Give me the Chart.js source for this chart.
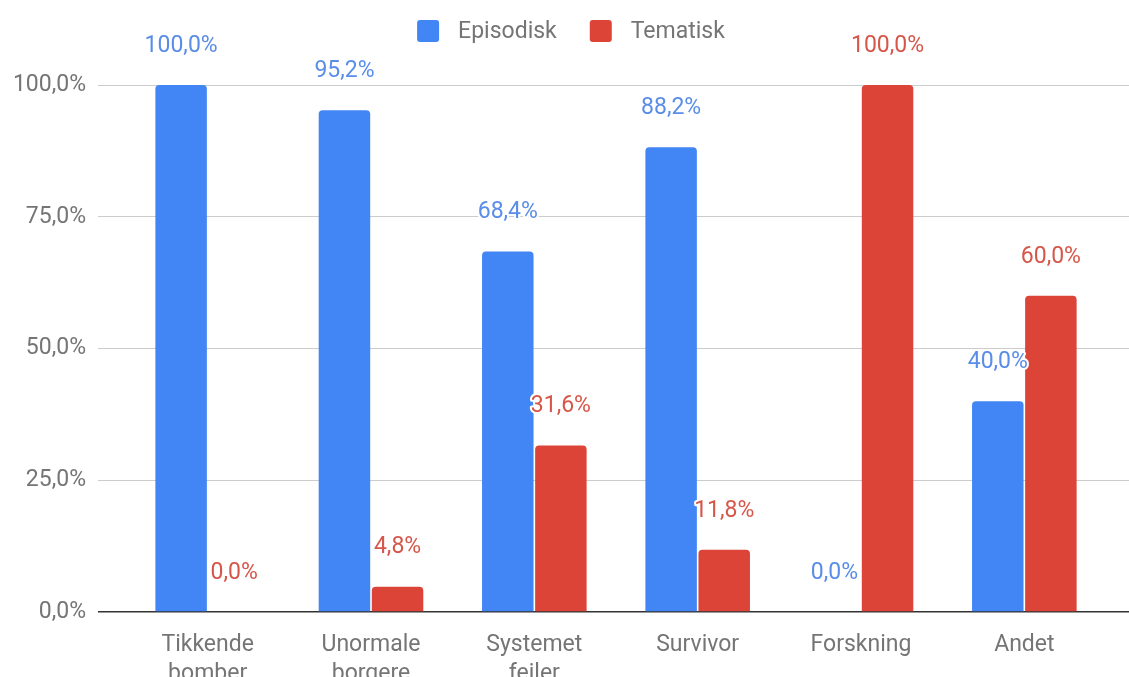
<!DOCTYPE html>
<html>
<head>
<meta charset="utf-8">
<script src="https://cdn.jsdelivr.net/npm/chart.js@4"></script>
<style>
  html, body { margin: 0; padding: 0; background: #fff; }
  #wrap { width: 1129px; height: 677px; }
</style>
</head>
<body>
<div id="wrap"><canvas id="chart" width="1129" height="677"></canvas></div>
<script>
// Chart data
const categories = [
    ['Tikkende', 'bomber'],
    ['Unormale', 'borgere'],
    ['Systemet', 'feiler'],
    'Survivor',
    'Forskning',
    'Andet'
];
const episodisk = [100.0, 95.2, 68.4, 88.2, 0.0, 40.0];
const tematisk = [0.0, 4.8, 31.6, 11.8, 100.0, 60.0];
const yTicks = [0, 25, 50, 75, 100];

const BLUE = '#4285F4';
const RED = '#DB4437';
const FONT = 'Roboto, "Noto Sans", sans-serif';
const TEXT = '#757575';

function pct(v) {
    return v.toFixed(1).replace('.', ',') + '%';
}

// Labels over each bar, with a white halo like the original
const valueLabels = {
    id: 'valueLabels',
    afterDatasetsDraw(chart) {
        const ctx = chart.ctx;
        ctx.save();
        ctx.font = '23px ' + FONT;
        ctx.textAlign = 'center';
        ctx.textBaseline = 'middle';
        ctx.lineJoin = 'round';
        chart.data.datasets.forEach((ds, i) => {
            chart.getDatasetMeta(i).data.forEach((bar, j) => {
                const txt = pct(ds.data[j]);
                ctx.strokeStyle = '#fff';
                ctx.lineWidth = 4;
                ctx.strokeText(txt, bar.x, bar.y - 39);
                ctx.fillStyle = ds.labelColor;
                ctx.fillText(txt, bar.x, bar.y - 39);
            });
        });
        ctx.restore();
    }
};

// Legend centred at the top
const topLegend = {
    id: 'topLegend',
    afterDraw(chart) {
        const ctx = chart.ctx;
        ctx.save();
        ctx.font = '23px ' + FONT;
        ctx.textBaseline = 'middle';
        const box = 22, gap = 19, spacing = 33;
        const items = chart.data.datasets.map(ds => ({
            text: ds.label, color: ds.backgroundColor, w: ctx.measureText(ds.label).width
        }));
        const total = items.reduce((s, it) => s + box + gap + it.w, 0) + spacing * (items.length - 1);
        let x = 571 - total / 2;
        const y = 31;
        items.forEach(it => {
            ctx.fillStyle = it.color;
            ctx.beginPath();
            ctx.roundRect(x, y - box / 2, box, box, 3);
            ctx.fill();
            ctx.fillStyle = TEXT;
            ctx.fillText(it.text, x + box + gap, y + 1);
            x += box + gap + it.w + spacing;
        });
        ctx.restore();
    }
};

const gridColor = c => (c.tick && c.tick.value === 0 ? '#333' : '#ccc');
const gridWidth = c => (c.tick && c.tick.value === 0 ? 1.5 : 1);

new Chart(document.getElementById('chart'), {
    type: 'bar',
    data: {
        labels: categories,
        datasets: [
            { label: 'Episodisk', data: episodisk, backgroundColor: BLUE, labelColor: '#5a8de8' },
            { label: 'Tematisk', data: tematisk, backgroundColor: RED, labelColor: '#d6564a' }
        ]
    },
    options: {
        responsive: false,
        animation: false,
        layout: { padding: { top: 85, left: 0, right: 0, bottom: 0 } },
        datasets: {
            bar: {
                categoryPercentage: 0.65,
                barPercentage: 0.97,
                borderRadius: { topLeft: 4, topRight: 4 },
                borderSkipped: 'start'
            }
        },
        plugins: {
            legend: { display: false },
            tooltip: { enabled: false }
        },
        scales: {
            x: {
                grid: { display: false },
                border: { display: false },
                ticks: {
                    color: TEXT,
                    font: { family: FONT, size: 23, lineHeight: 1.26 },
                    padding: 11,
                    maxRotation: 0,
                    autoSkip: false
                },
                afterFit(scale) { scale.height = 65; }
            },
            y: {
                min: 0,
                max: 100,
                afterBuildTicks(scale) { scale.ticks = yTicks.map(v => ({ value: v })); },
                border: { display: false },
                grid: { color: gridColor, lineWidth: gridWidth, tickLength: 28 },
                ticks: {
                    color: TEXT,
                    font: { family: FONT, size: 23 },
                    padding: 12,
                    callback: v => pct(v)
                },
                afterFit(scale) { scale.width = 126; }
            },
            y2: {
                position: 'right',
                min: 0,
                max: 100,
                afterBuildTicks(scale) { scale.ticks = yTicks.map(v => ({ value: v })); },
                border: { display: false },
                grid: { color: gridColor, lineWidth: gridWidth, tickLength: 23, drawOnChartArea: false },
                ticks: { display: false },
                afterFit(scale) { scale.width = 23; }
            }
        }
    },
    plugins: [valueLabels, topLegend]
});
</script>
</body>
</html>
